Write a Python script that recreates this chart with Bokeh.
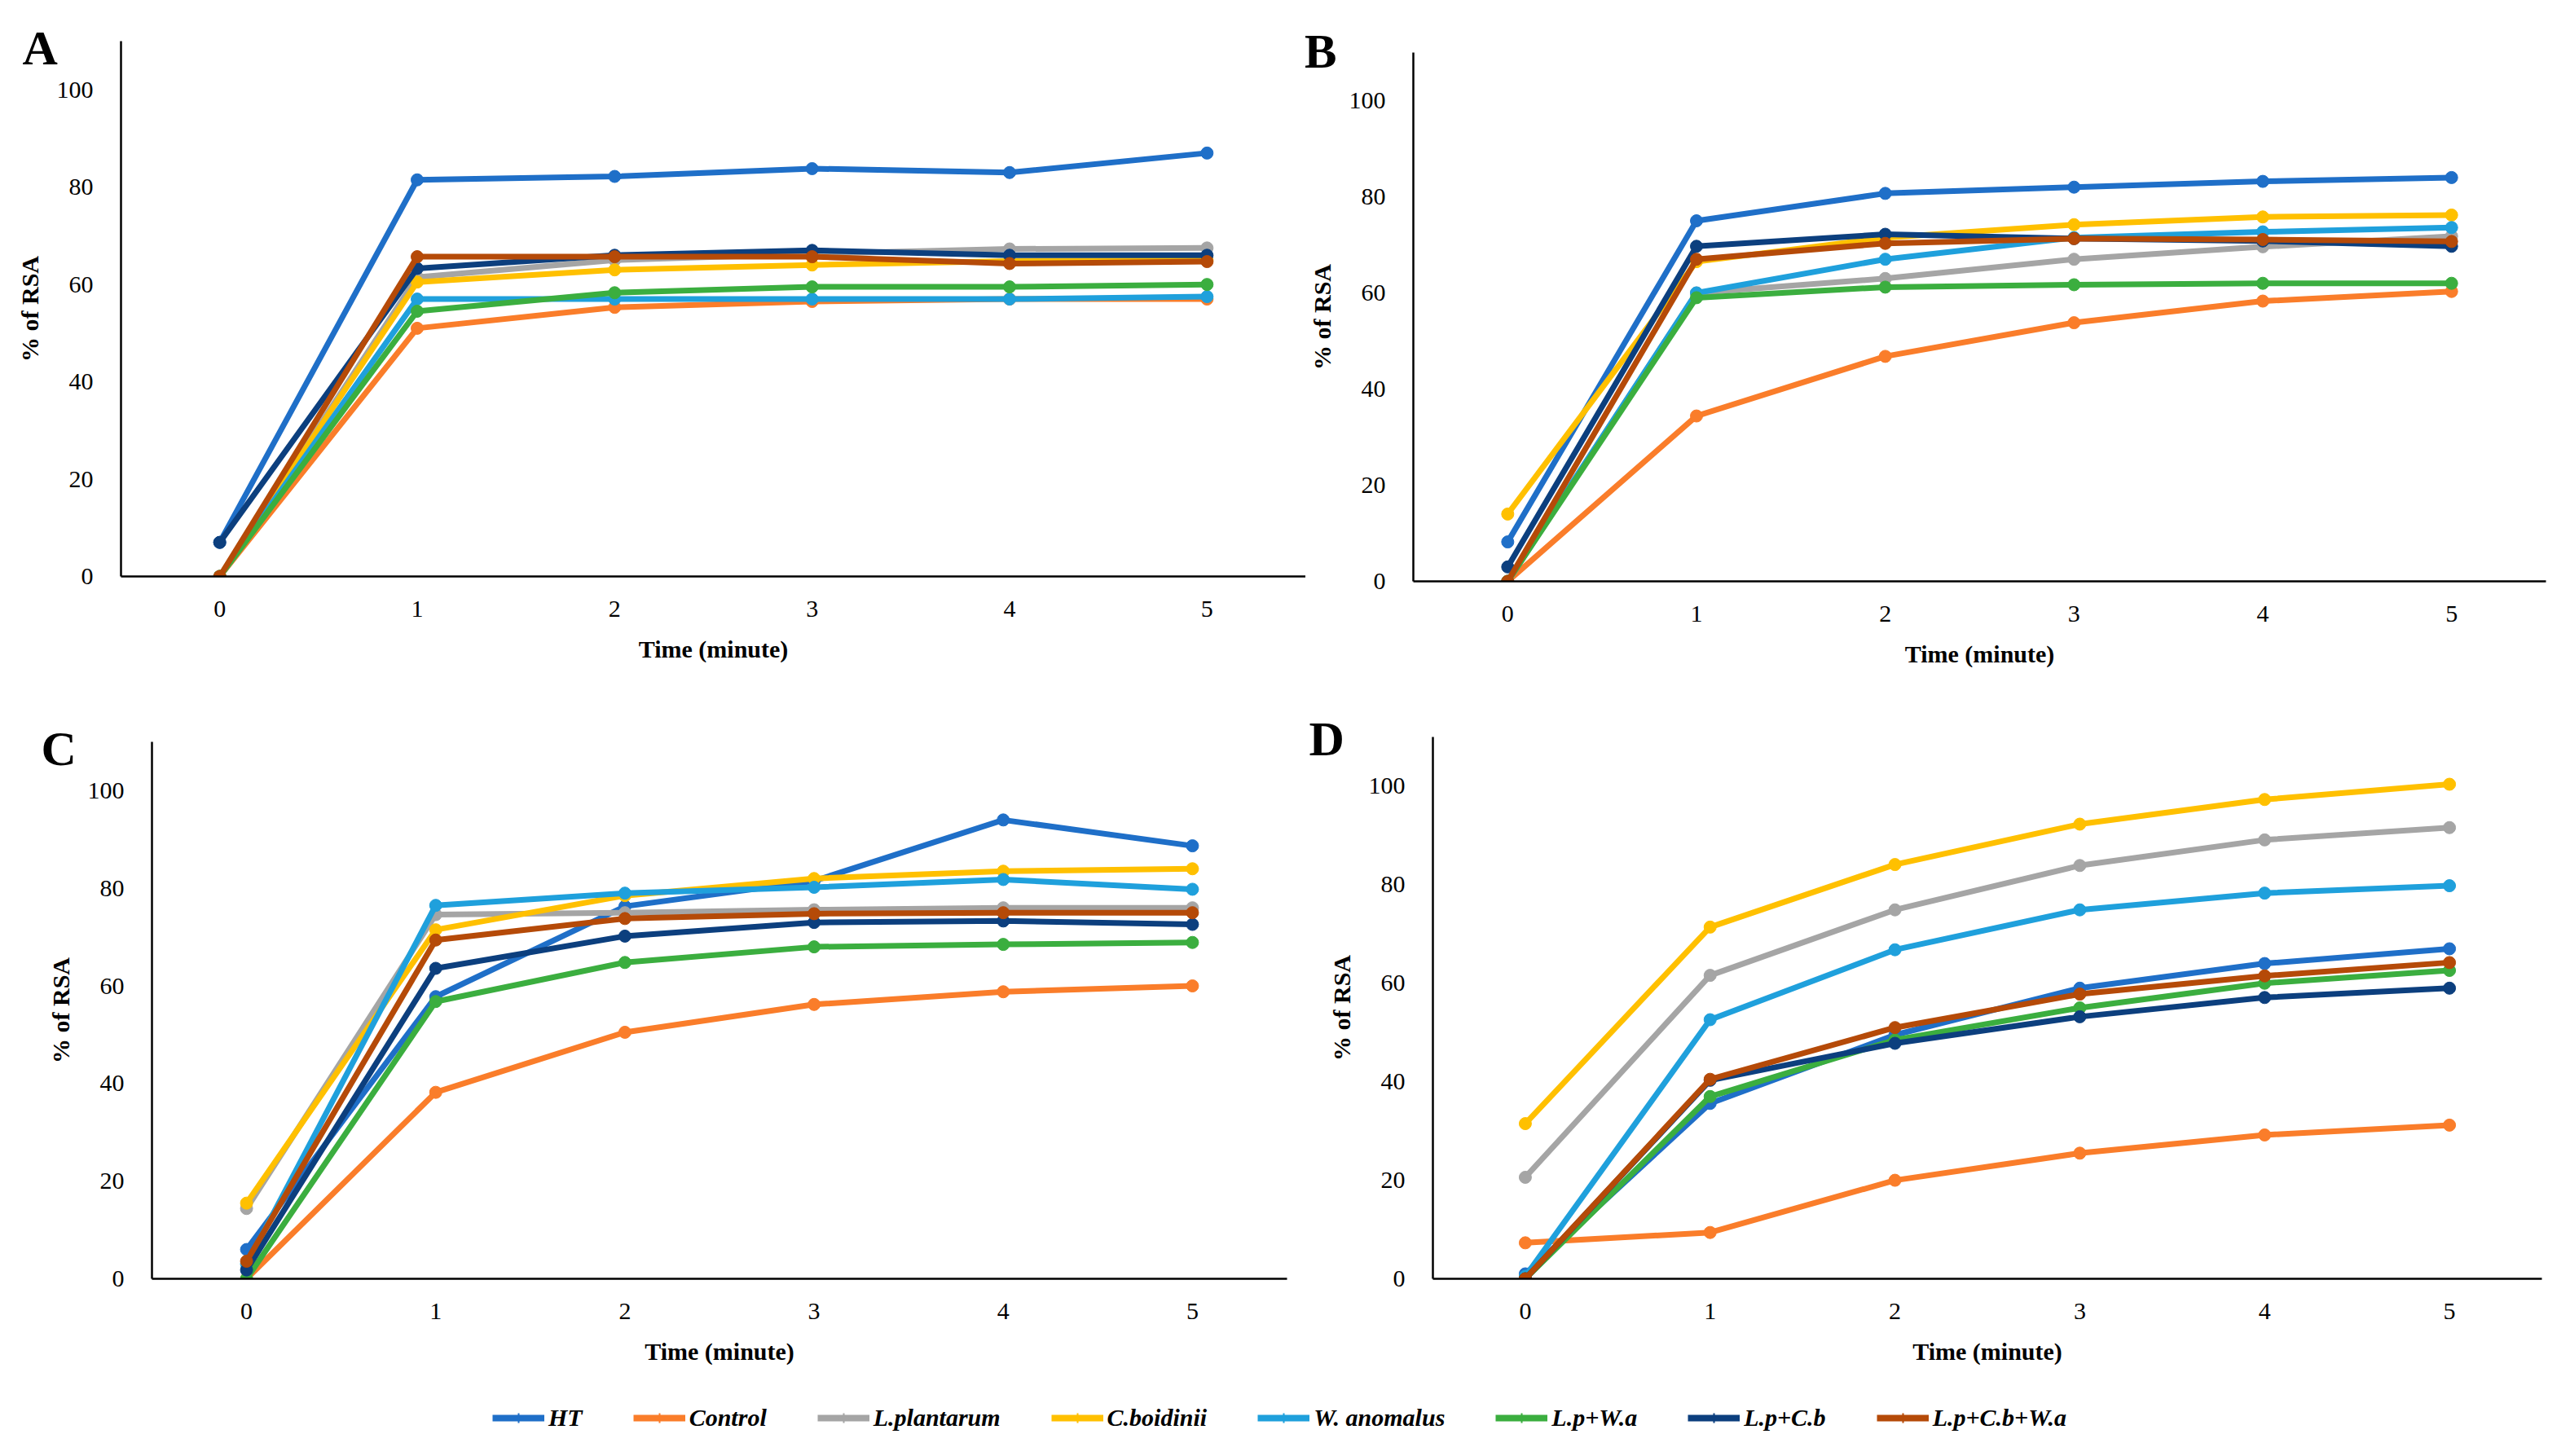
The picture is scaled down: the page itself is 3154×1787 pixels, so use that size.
from bokeh.plotting import figure
from bokeh.layouts import column, row
from bokeh.models import FixedTicker, Legend, LegendItem, Range1d, Title
from bokeh.embed import file_html
from bokeh.resources import INLINE

# ---------------- data ----------------
time_min = [0, 1, 2, 3, 4, 5]
series_names = ["HT", "Control", "L.plantarum", "C.boidinii", "W. anomalus",
                "L.p+W.a", "L.p+C.b", "L.p+C.b+W.a"]
series_colors = ["#1F6FC8", "#FA7D2A", "#A5A5A5", "#FFC000", "#1FA0DC",
                 "#3BAE3F", "#0C3F7E", "#B54A08"]

panel_A = [
    [7.0, 81.5, 82.2, 83.8, 83.0, 87.0],   # HT
    [0.0, 51.0, 55.3, 56.5, 57.0, 57.0],   # Control
    [0.0, 61.5, 65.0, 66.3, 67.3, 67.5],   # L.plantarum
    [0.0, 60.5, 63.0, 64.0, 64.8, 65.0],   # C.boidinii
    [0.0, 57.0, 57.0, 57.0, 57.0, 57.5],   # W. anomalus
    [0.0, 54.5, 58.3, 59.5, 59.5, 60.0],   # L.p+W.a
    [7.0, 63.3, 66.0, 67.0, 66.0, 66.0],   # L.p+C.b
    [0.0, 65.7, 65.7, 65.7, 64.3, 64.7],   # L.p+C.b+W.a
]
panel_B = [
    [8.2, 75.0, 80.7, 82.0, 83.2, 84.0],
    [0.0, 34.4, 46.8, 53.8, 58.3, 60.3],
    [0.0, 60.0, 63.0, 67.0, 69.6, 71.8],
    [14.0, 66.5, 71.5, 74.2, 75.8, 76.2],
    [0.0, 60.0, 67.0, 71.5, 72.7, 73.6],
    [0.0, 59.0, 61.2, 61.7, 62.0, 62.0],
    [3.0, 69.7, 72.2, 71.3, 70.8, 69.7],
    [0.0, 67.0, 70.3, 71.3, 71.1, 70.7],
]
panel_C = [
    [6.0, 57.8, 76.3, 81.5, 94.0, 88.7],
    [0.0, 38.2, 50.5, 56.2, 58.8, 60.0],
    [14.4, 74.6, 75.0, 75.6, 76.0, 76.0],
    [15.5, 71.5, 78.5, 82.0, 83.5, 84.0],
    [3.0, 76.5, 79.0, 80.2, 81.8, 79.8],
    [0.0, 56.8, 64.8, 68.0, 68.5, 68.9],
    [1.8, 63.6, 70.2, 73.0, 73.3, 72.6],
    [3.6, 69.4, 73.8, 74.8, 75.0, 75.0],
]
panel_D = [
    [1.0, 35.6, 49.5, 59.0, 64.0, 67.0],
    [7.3, 9.4, 20.0, 25.5, 29.2, 31.2],
    [20.6, 61.6, 74.9, 83.9, 89.1, 91.6],
    [31.5, 71.4, 84.1, 92.3, 97.3, 100.4],
    [0.5, 52.6, 66.8, 74.9, 78.3, 79.8],
    [0.0, 37.0, 48.5, 55.0, 60.0, 62.6],
    [0.0, 40.3, 47.8, 53.2, 57.1, 59.0],
    [0.0, 40.5, 51.0, 57.8, 61.5, 64.2],
]
y_ticks = [0, 20, 40, 60, 80, 100]
panel_letters = ["A", "B", "C", "D"]

SERIF = "Liberation Serif"


def make_panel(values, letter, width, height, bl, br, bt, bb, letter_offset, letter_standoff):
    title = Title(text=letter, align="left", offset=letter_offset, standoff=letter_standoff,
                  text_font=SERIF, text_font_size="60px", text_font_style="bold",
                  text_color="black", vertical_align="bottom")
    p = figure(width=width, height=height, output_backend="svg", toolbar_location=None,
               x_range=Range1d(-0.5, 5.5), y_range=Range1d(0, 110), title=title,
               min_border_left=bl, min_border_right=br, min_border_top=bt, min_border_bottom=bb)
    p.outline_line_color = None
    p.grid.visible = False
    p.background_fill_color = "white"
    p.border_fill_color = "white"
    for vals, col in zip(values, series_colors):
        p.line(time_min, vals, line_color=col, line_width=7)
        p.scatter(time_min, vals, marker="circle", size=15, fill_color=col, line_color=col)
    p.xaxis.ticker = FixedTicker(ticks=time_min)
    p.yaxis.ticker = FixedTicker(ticks=y_ticks)
    for ax in (p.xaxis[0], p.yaxis[0]):
        ax.major_tick_line_color = None
        ax.minor_tick_line_color = None
        ax.axis_line_color = "black"
        ax.axis_line_width = 2.5
        ax.major_label_text_font = SERIF
        ax.major_label_text_font_size = "30px"
        ax.major_label_text_color = "black"
        ax.axis_label_text_font = SERIF
        ax.axis_label_text_font_size = "30px"
        ax.axis_label_text_font_style = "bold"
        ax.axis_label_text_color = "black"
    p.xaxis.axis_label = "Time (minute)"
    p.yaxis.axis_label = "% of RSA"
    p.xaxis.major_label_standoff = 24
    p.xaxis.axis_label_standoff = 20
    p.yaxis.major_label_standoff = 28
    p.yaxis.axis_label_standoff = 14
    return p


pA = make_panel(panel_A, panel_letters[0], 1602, 852, 148, 0, 50, 145, -121, -82)
pB = make_panel(panel_B, panel_letters[1], 1536, 852, 114, 14, 64, 139, -134, -62)
pC = make_panel(panel_C, panel_letters[2], 1600, 830, 186, 21, 58, 113, -136, -82)
pD = make_panel(panel_D, panel_letters[3], 1538, 830, 158, 19, 52, 113, -152, -70)

# ---------------- legend strip ----------------
pl = figure(width=3138, height=89, output_backend="svg", toolbar_location=None,
            x_range=Range1d(0, 1), y_range=Range1d(0, 1),
            min_border_left=0, min_border_right=0, min_border_top=0, min_border_bottom=0)
pl.axis.visible = False
pl.grid.visible = False
pl.outline_line_color = None
nan = float("nan")
items = []
for name, col in zip(series_names, series_colors):
    lr = pl.line([nan, nan], [nan, nan], line_color=col, line_width=8)
    sr = pl.scatter([nan], [nan], marker="cross", size=12, line_color=col, line_width=2)
    items.append(LegendItem(label=name, renderers=[lr, sr]))
leg = Legend(items=items, orientation="horizontal", location=(604, 14),
             spacing=62, glyph_width=64, glyph_height=30, label_standoff=5,
             label_height=30, padding=0, margin=0, border_line_color=None,
             background_fill_alpha=0, label_text_font="Liberation Sans Narrow",
             label_text_font_size="30px", label_text_font_style="bold italic",
             label_text_color="black")
pl.add_layout(leg, "center")

layout = column(row(column(pA), column(pB), spacing=0),
                row(column(pC), column(pD), spacing=0), pl, spacing=0)

open("out.html", "w").write(file_html(layout, INLINE))
